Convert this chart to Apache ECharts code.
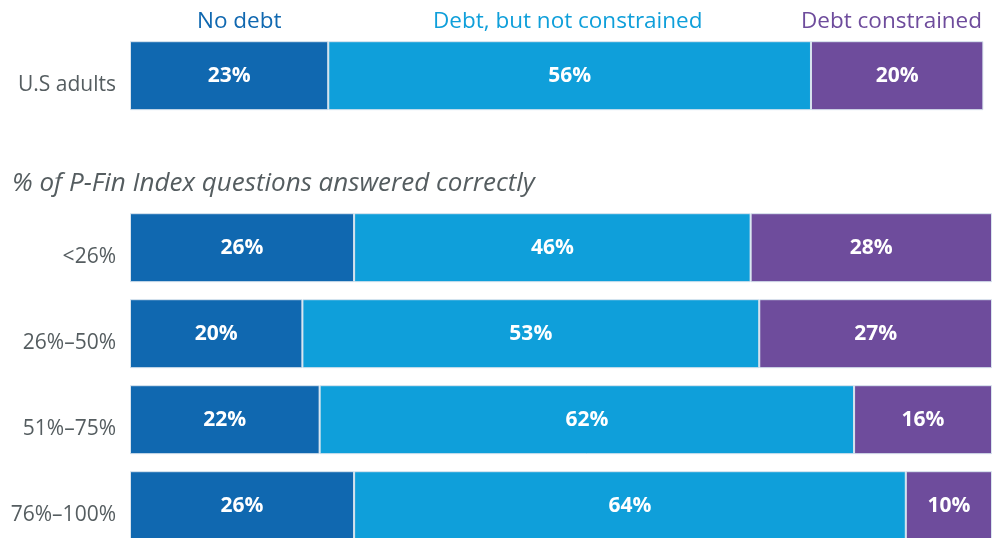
<!DOCTYPE html>
<html>
<head>
<meta charset="utf-8">
<script src="https://cdn.jsdelivr.net/npm/echarts@6/dist/echarts.min.js"></script>
<style>
  html, body { margin: 0; padding: 0; background: #fff; }
  #main { width: 994px; height: 538px; }
</style>
</head>
<body>
<div id="main"></div>
<script>
// rows (blank row leaves room for the subtitle)
var categories = ['U.S adults', '', '<26%', '26%–50%', '51%–75%', '76%–100%'];
var noDebt = [23, null, 26, 20, 22, 26];
var debtNotConstrained = [56, null, 46, 53, 62, 64];
var debtConstrained = [20, null, 28, 27, 16, 10];
var seriesNames = ['No debt', 'Debt, but not constrained', 'Debt constrained'];
var colors = ['#1068b0', '#0f9fda', '#6e4c9c'];

var myChart = echarts.init(document.getElementById('main'));
var font = 'Open Sans';

function makeSeries(name, data, color) {
    return {
        name: name,
        type: 'bar',
        stack: 'all',
        data: data,
        barWidth: 69,
        itemStyle: { color: color, borderColor: '#d8e4ee', borderWidth: 1 },
        label: {
            show: true,
            position: 'inside',
            color: '#fff',
            fontFamily: font,
            fontWeight: 'bold',
            fontSize: 21,
            formatter: function(p) { return p.value + '%'; }
        }
    };
}

function makeLegend(i, left) {
    return {
        data: [seriesNames[i]],
        left: left,
        top: 5,
        icon: 'none',
        itemWidth: 0,
        itemGap: 0,
        selectedMode: false,
        textStyle: { color: colors[i], fontFamily: font, fontSize: 22.5, padding: 0 }
    };
}

var option = {
    animation: false,
    title: {
        text: '% of P-Fin Index questions answered correctly',
        left: 7,
        top: 166,
        textStyle: { color: '#555d60', fontFamily: font, fontStyle: 'italic', fontWeight: 'normal', fontSize: 26 }
    },
    legend: [makeLegend(0, 187), makeLegend(1, 423), makeLegend(2, 791)],
    grid: { left: 130, top: 32.7, width: 862, height: 516, outerBoundsMode: 'none', containLabel: false },
    xAxis: { type: 'value', min: 0, max: 100, show: false },
    yAxis: {
        type: 'category',
        inverse: true,
        data: categories,
        axisLine: { show: false },
        axisTick: { show: false },
        axisLabel: { color: '#555d60', fontFamily: font, fontSize: 21, lineHeight: 18, verticalAlign: 'top', margin: 14 }
    },
    series: [
        makeSeries(seriesNames[0], noDebt, colors[0]),
        makeSeries(seriesNames[1], debtNotConstrained, colors[1]),
        makeSeries(seriesNames[2], debtConstrained, colors[2])
    ]
};
myChart.setOption(option);
</script>
</body>
</html>
